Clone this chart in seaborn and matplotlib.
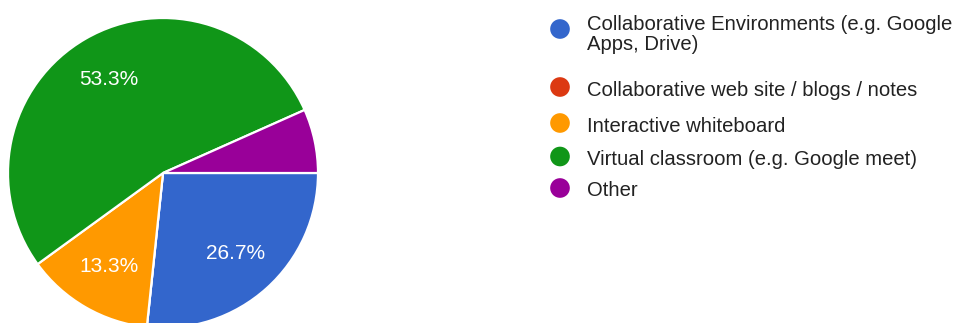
import matplotlib
matplotlib.use("Agg")
import matplotlib.pyplot as plt
import seaborn as sns

# Survey responses per tool
categories = [
    "Collaborative Environments (e.g. Google\nApps, Drive)",
    "Collaborative web site / blogs / notes",
    "Interactive whiteboard",
    "Virtual classroom (e.g. Google meet)",
    "Other",
]
responses = [4, 0, 2, 8, 1]
colors = ["#3366cc", "#dc3912", "#ff9900", "#109618", "#990099"]

sns.set_theme(style="white")
plt.rcParams["font.family"] = ["Liberation Sans", "DejaVu Sans"]

W, H = 959, 323
fig = plt.figure(figsize=(W / 100, H / 100), dpi=100)
ax = fig.add_axes([0, 0, 1, 1])


def flip(y):
    # pixel row measured from the top -> data y
    return H - y


def pct_label(p):
    return f"{p:.1f}%" if p >= 10 else ""


wedges, texts, autotexts = ax.pie(
    responses,
    colors=colors,
    startangle=0,
    counterclock=False,
    center=(163, flip(173)),
    radius=155,
    autopct=pct_label,
    pctdistance=0.70,
    wedgeprops=dict(edgecolor="white", linewidth=1.6),
    textprops=dict(color="white", fontsize=15),
)

# Legend: coloured dots with their labels (baseline of each label's last line)
dot_x = 560
dot_y = [29, 87, 123, 156.5, 188]
text_base = [50, 95.5, 131.5, 165, 196.5]
sns.scatterplot(
    x=[dot_x] * len(categories),
    y=[flip(v) for v in dot_y],
    hue=categories,
    palette=colors,
    s=200,
    linewidth=0,
    legend=False,
    ax=ax,
)
for label, yb in zip(categories, text_base):
    ax.text(587, flip(yb), label, fontsize=14.6, color="#222222",
            va="baseline", ha="left", linespacing=1.08)

ax.set_xlim(0, W)
ax.set_ylim(0, H)
ax.set_aspect("equal")
ax.axis("off")

fig.savefig("out.png", dpi=100, facecolor="white")
